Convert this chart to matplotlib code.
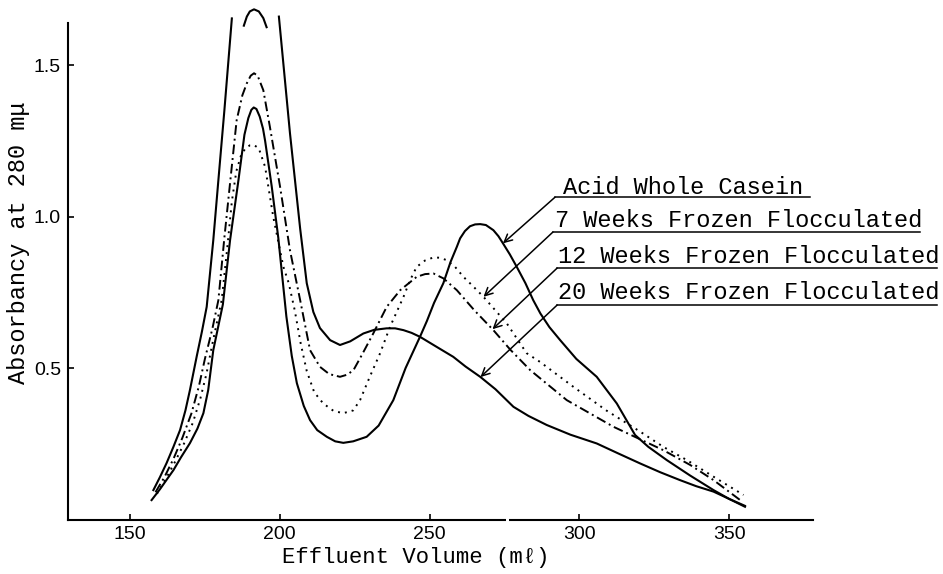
import numpy as np
import matplotlib.pyplot as plt

acid_x = [157.2, 160, 164.5, 167, 170, 172.5, 174.5, 176.1, 177.8, 181, 183.4, 186.2, 188.2,
          189.5, 190.5, 191.3, 192.2, 193.3, 194.4, 195.1, 197.3, 199.5, 202.2, 204, 205.7,
          208, 210.1, 212.5, 215.7, 218.5, 221.2, 224.5, 229, 233, 237.9, 242, 246.8,
          249.1, 251.5, 254.6, 257, 259.1, 260.2, 261.8, 263.5, 265.2, 266.9, 268.8, 271.3,
          273, 274.6, 276.8, 279.1, 282, 284.6, 287, 290, 293.6, 299, 305.8, 312.5, 318.6, 323,
          329.2, 337, 344.8, 350, 355.3]
acid_y = [0.064, 0.10, 0.163, 0.205, 0.252, 0.30, 0.351, 0.427, 0.559, 0.71, 0.922, 1.12, 1.27,
          1.325, 1.352, 1.36, 1.355, 1.33, 1.29, 1.25, 1.10, 0.93, 0.67, 0.54, 0.45,
          0.375, 0.328, 0.295, 0.273, 0.258, 0.253, 0.258, 0.273, 0.31, 0.394, 0.50, 0.603,
          0.655, 0.715, 0.78, 0.85, 0.90, 0.928, 0.952, 0.968, 0.974, 0.975, 0.972, 0.955,
          0.935, 0.91, 0.875, 0.834, 0.78, 0.724, 0.68, 0.635, 0.592, 0.53, 0.471, 0.383, 0.279,
          0.24, 0.196, 0.145, 0.097, 0.068, 0.042]

# 20 weeks: first peak is off scale, the trace is broken at the top
w20_x = [157.8, 160, 162.2, 164.5, 166.7, 168.5, 170, 172.3, 174, 175.6, 177.8, 179.5, 181.5,
         184, np.nan, 199.7, 203.4, 206.8, 209, 211.2, 213.4, 216.8, 220.1, 223.5, 227.9,
         231.5, 235.7, 238.5, 241.3, 244, 246.8, 252, 257.9, 262, 266.9, 272, 278, 283,
         289.1, 297, 305.8, 313, 320.3, 327, 333.6, 339, 344.8, 350, 355.3]
w20_y = [0.097, 0.14, 0.186, 0.24, 0.295, 0.36, 0.427, 0.54, 0.62, 0.702, 0.922, 1.12, 1.35,
         1.654, np.nan, 1.66, 1.275, 0.96, 0.78, 0.685, 0.632, 0.592, 0.576, 0.588, 0.614,
         0.626, 0.631, 0.631, 0.625, 0.616, 0.603, 0.572, 0.537, 0.505, 0.471, 0.43, 0.372,
         0.342, 0.312, 0.28, 0.251, 0.218, 0.185, 0.156, 0.13, 0.11, 0.092, 0.068, 0.045]
w20_cap_x = [188, 189, 190, 191.4, 193, 194.5, 195.6]
w20_cap_y = [1.63, 1.66, 1.677, 1.684, 1.677, 1.655, 1.625]

w7_x = [159, 162, 165, 168, 171, 173.5, 175.5, 177.5, 179, 180.6, 182.5, 184, 185.5, 187,
        188.5, 190, 191.4, 193, 195.1, 197.8, 201.2, 203, 205, 207, 209, 211.5, 214.5, 218,
        221.2, 224.5, 226.8, 230, 233.5, 236.8, 241.3, 243.5, 245.7, 248.5, 251.3, 253.5,
        255.7, 258.5, 261.3, 264.5, 268, 275.8, 282.4, 286.9, 298, 309, 320.3, 328, 335.9,
        345, 354.8]
w7_y = [0.085, 0.135, 0.19, 0.25, 0.32, 0.40, 0.48, 0.58, 0.65, 0.724, 0.90, 1.05, 1.15, 1.20,
        1.225, 1.235, 1.236, 1.225, 1.164, 1.0, 0.834, 0.78, 0.69, 0.58, 0.49, 0.42, 0.383, 0.358,
        0.351, 0.36, 0.394, 0.47, 0.549, 0.636, 0.735, 0.79, 0.834, 0.855, 0.865, 0.864,
        0.856, 0.834, 0.801, 0.77, 0.735, 0.647, 0.549, 0.52, 0.438, 0.36, 0.29, 0.24, 0.196,
        0.14, 0.081]

w12_x = [158.5, 161.5, 164.5, 167.5, 170.5, 173, 175, 177.5, 179.5, 181.5, 183.5, 185.6, 187.5,
         189, 190.3, 191.4, 192.6, 194.5, 196.7, 200.1, 203.4, 206.8, 210.1, 213.4, 216.5,
         220.1, 222.5, 224.6, 227.5, 231.2, 235.7, 240.2, 245.7, 248.5, 251.3, 254.6, 259.1,
         265, 271.3, 277, 283.6, 295.8, 311.4, 328, 337, 344.8, 353.7]
w12_y = [0.09, 0.14, 0.20, 0.27, 0.35, 0.44, 0.53, 0.63, 0.724, 0.93, 1.12, 1.318, 1.40,
         1.44, 1.465, 1.473, 1.465, 1.417, 1.296, 1.098, 0.889, 0.724, 0.559, 0.504, 0.48,
         0.471, 0.478, 0.493, 0.545, 0.614, 0.702, 0.757, 0.801, 0.81, 0.812, 0.796, 0.757,
         0.69, 0.625, 0.56, 0.493, 0.394, 0.306, 0.229, 0.18, 0.13, 0.064]

labels = ['Acid Whole Casein', '7 Weeks Frozen Flocculated',
          '12 Weeks Frozen Flocculated', '20 Weeks Frozen Flocculated']
x_ticks = [150, 200, 250, 300, 350]
y_ticks = [0.5, 1.0, 1.5]

mono = ['Liberation Mono', 'DejaVu Sans Mono']
sans = ['Liberation Sans', 'DejaVu Sans']

fig = plt.figure(figsize=(9.43, 5.74), dpi=100)
ax = fig.add_axes([68 / 943, 54.5 / 574, 745 / 943, 512 / 574])

ax.plot(acid_x, acid_y, color='black', lw=1.5)
ax.plot(w20_x, w20_y, color='black', lw=1.5)
ax.plot(w20_cap_x, w20_cap_y, color='black', lw=1.5, clip_on=False)
ax.plot(w7_x, w7_y, color='black', lw=1.4, linestyle=(0, (1, 2.6)))
ax.plot(w12_x, w12_y, color='black', lw=1.4, linestyle=(0, (5, 2, 1, 2)))

ax.set_xlim(129.3, 378)
ax.set_ylim(0, 1.69)
ax.spines['top'].set_visible(False)
ax.spines['right'].set_visible(False)
ax.spines['left'].set_bounds(0, 1.638)
ax.spines['left'].set_linewidth(1.5)
ax.spines['bottom'].set_linewidth(1.5)

# small break in the volume axis
ax.plot([275.4, 276.4], [0, 0], color='white', lw=3, clip_on=False, zorder=5,
        solid_capstyle='butt')

ax.set_xticks(x_ticks)
ax.set_xticklabels([str(v) for v in x_ticks], family=sans, fontsize=14)
ax.set_yticks(y_ticks)
ax.set_yticklabels(['%.1f' % v for v in y_ticks], family=sans, fontsize=14)
ax.tick_params(direction='in', length=4, width=1.2, pad=5)

fig.text(19 / 943, 1 - 243 / 574, 'Absorbancy at 280 m\u03bc', rotation=90,
         ha='center', va='center', family=mono, fontsize=17)
fig.text(416 / 943, 1 - 557 / 574, 'Effluent Volume (m\u2113)',
         ha='center', va='center', family=mono, fontsize=16)

# labels with underline and leader arrows
series = [(acid_x, acid_y), (w7_x, w7_y), (w12_x, w12_y), (w20_x, w20_y)]
tip_x = [274.5, 268, 271, 267]
text_x = [294.6, 291.9, 292.9, 292.9]
text_y = [1.076, 0.965, 0.846, 0.728]
line_x0 = [291.9, 291.2, 292.6, 292.6]
line_x1 = [377.0, 413.8, 419.5, 419.5]
line_y = [1.064, 0.949, 0.830, 0.708]
for i, lab in enumerate(labels):
    sx = np.array(series[i][0], dtype=float)
    sy = np.array(series[i][1], dtype=float)
    ok = ~np.isnan(sx)
    ty = np.interp(tip_x[i], sx[ok], sy[ok])
    ax.text(text_x[i], text_y[i], lab, family=mono, fontsize=17, va='baseline',
            ha='left', clip_on=False)
    ax.plot([line_x0[i], line_x1[i]], [line_y[i], line_y[i]], color='black', lw=1.1,
            clip_on=False)
    ax.annotate('', xy=(tip_x[i], ty), xytext=(line_x0[i], line_y[i]),
                arrowprops=dict(arrowstyle='->', color='black', lw=1.1,
                                shrinkA=0, shrinkB=0, mutation_scale=14),
                annotation_clip=False)

fig.savefig('out.png', dpi=100)
